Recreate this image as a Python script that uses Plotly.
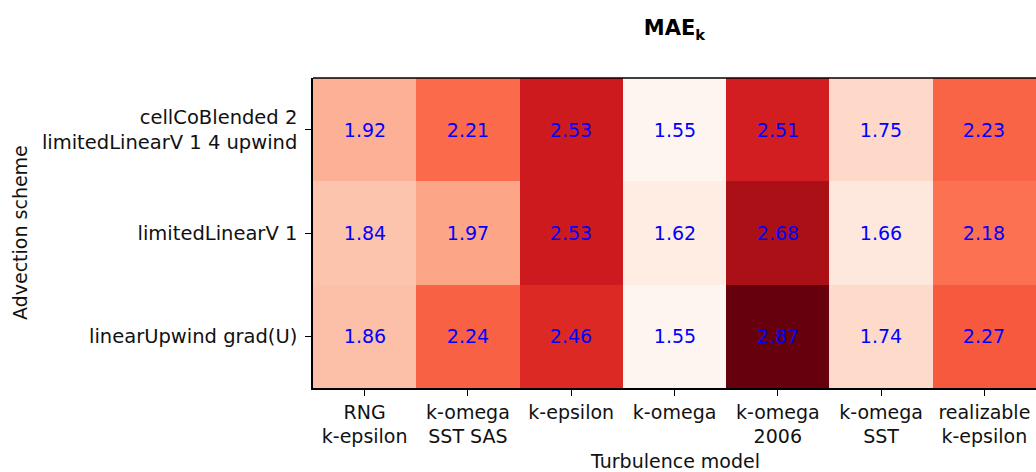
import plotly.graph_objects as go

turbulence_models = ["RNG<br>k-epsilon", "k-omega<br>SST SAS", "k-epsilon", "k-omega",
                     "k-omega<br>2006", "k-omega<br>SST", "realizable<br>k-epsilon"]
advection_schemes = ["cellCoBlended 2<br>limitedLinearV 1 4 upwind",
                     "limitedLinearV 1",
                     "linearUpwind grad(U)"]
mae_cellco = [1.92, 2.21, 2.53, 1.55, 2.51, 1.75, 2.23]
mae_limited = [1.84, 1.97, 2.53, 1.62, 2.68, 1.66, 2.18]
mae_linearupwind = [1.86, 2.24, 2.46, 1.55, 2.87, 1.74, 2.27]

reds = ["#fff5f0", "#fee0d2", "#fcbba1", "#fc9272", "#fb6a4a",
        "#ef3b2c", "#cb181d", "#a50f15", "#67000d"]
colorscale = [[i / (len(reds) - 1), c] for i, c in enumerate(reds)]

z = [mae_cellco, mae_limited, mae_linearupwind]
FONT = "DejaVu Sans"
TXT = "#111111"

fig = go.Figure(go.Heatmap(
    z=z, x=turbulence_models, y=advection_schemes,
    colorscale=colorscale, showscale=False,
    texttemplate="%{z:.2f}", textfont=dict(color="#0000ff", size=19, family=FONT),
    hoverinfo="skip", xgap=0, ygap=0,
))

fig.update_layout(
    width=1036, height=472,
    margin=dict(l=313, r=0, t=78, b=84),
    paper_bgcolor="white", plot_bgcolor="white",
    font=dict(family=FONT, size=19, color=TXT),
    title=dict(text="<b>MAE<sub>k</sub></b>", x=0.5, xref="paper", xanchor="center",
               y=1 - 28 / 472, yref="container", yanchor="middle",
               font=dict(size=21, family=FONT, color="black")),
    showlegend=False,
)
fig.update_xaxes(showline=True, linecolor="black", linewidth=1.5, ticks="outside",
                 ticklen=6, tickcolor="black", tickwidth=1, showgrid=False, zeroline=False,
                 tickfont=dict(size=19, family=FONT, color=TXT))
fig.update_yaxes(showline=True, linecolor="black", linewidth=1.5, ticks="outside",
                 ticklen=6, tickcolor="black", tickwidth=1, showgrid=False, zeroline=False,
                 autorange="reversed", ticklabelstandoff=4,
                 tickfont=dict(size=19.5, family=FONT, color=TXT))
fig.add_shape(type="line", xref="paper", yref="paper", x0=0, x1=1, y0=1, y1=1,
              line=dict(color="black", width=1.5))
fig.add_annotation(text="Turbulence model", xref="paper", yref="paper", x=0.5,
                   y=-(461 - 388) / 310, yanchor="middle", showarrow=False,
                   font=dict(size=19, family=FONT, color=TXT))
fig.add_annotation(text="Advection scheme", xref="paper", yref="paper",
                   x=-(313 - 20) / 723, xanchor="center", y=0.5, textangle=-90,
                   showarrow=False, font=dict(size=19, family=FONT, color=TXT))

fig.write_html("out.html")
